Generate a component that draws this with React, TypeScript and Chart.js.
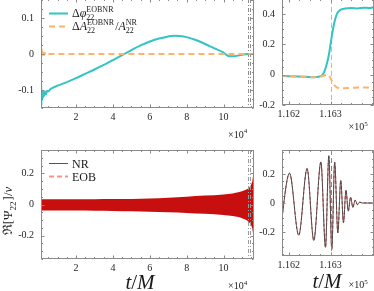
import React, { useEffect, useRef } from 'react';
import { Chart, registerables } from 'chart.js';
Chart.register(...registerables);

const FONT = "'Liberation Serif','Times New Roman','DejaVu Serif',serif";

// ---------------- data ----------------
// top-left: phase difference (full inspiral)
const phaseT = [1000, 1050, 1120, 1200, 1300, 1420, 1550, 1700, 1900, 2150, 2450, 2800, 3200, 3700, 4300, 5000, 6000, 10000, 15000, 20000, 25000, 30000, 35000, 40000, 46000, 50000, 55000, 60000, 65000, 70000, 73000, 76000, 80000, 85000, 90000, 95000, 100000, 103000, 106000, 110000, 113000, 116300];
const phaseV = [-0.066, -0.148, -0.09, -0.142, -0.098, -0.13, -0.104, -0.124, -0.103, -0.12, -0.106, -0.116, -0.104, -0.112, -0.102, -0.104, -0.098, -0.088, -0.078, -0.067, -0.055, -0.043, -0.03, -0.017, 0.0, 0.011, 0.024, 0.035, 0.043, 0.049, 0.051, 0.05, 0.047, 0.039, 0.028, 0.016, 0.004, -0.006, -0.006, -0.002, 0.0, 0.0];
// top-left: relative amplitude difference
const ampT = [1000, 1040, 1100, 1180, 1260, 1360, 1480, 1620, 1800, 2050, 2350, 2700, 3100, 3600, 4200, 5000, 116500];
const ampV = [0.036, -0.012, 0.024, -0.008, 0.014, -0.006, 0.01, -0.005, 0.007, -0.004, 0.005, -0.003, 0.003, -0.002, 0.001, 0, 0];

// top-right: zoom on merger
const zoomPhaseT = [116180, 116200, 116220, 116240, 116260, 116272, 116280, 116286, 116291, 116296, 116300, 116304, 116308, 116312, 116316, 116320, 116326, 116335, 116350, 116365, 116380, 116392, 116405];
const zoomPhaseV = [-0.008, -0.01, -0.012, -0.014, -0.016, -0.014, -0.003, 0.025, 0.07, 0.13, 0.2, 0.27, 0.33, 0.375, 0.405, 0.42, 0.432, 0.437, 0.44, 0.438, 0.443, 0.44, 0.447];
const zoomAmpT = [116180, 116200, 116220, 116240, 116260, 116275, 116285, 116292, 116297, 116302, 116308, 116314, 116320, 116330, 116345, 116360, 116375, 116390, 116405];
const zoomAmpV = [-0.008, -0.01, -0.012, -0.014, -0.016, -0.012, -0.005, 0.002, -0.008, -0.035, -0.065, -0.082, -0.088, -0.09, -0.087, -0.086, -0.084, -0.085, -0.082];

// bottom-left: envelope of the dense inspiral waveform
const envT = [1000, 10000, 20000, 30000, 40000, 50000, 60000, 70000, 80000, 90000, 100000, 105000, 108000, 110000, 112000, 113500, 114500, 115300, 115900, 116200, 116300, 116500];
const envUpper = [0.033, 0.033, 0.034, 0.034, 0.035, 0.036, 0.039, 0.044, 0.05, 0.057, 0.065, 0.071, 0.078, 0.085, 0.095, 0.105, 0.118, 0.14, 0.175, 0.22, 0.3, 0.02];
const envLower = [-0.038, -0.038, -0.039, -0.04, -0.041, -0.043, -0.046, -0.05, -0.054, -0.06, -0.068, -0.074, -0.081, -0.088, -0.098, -0.11, -0.124, -0.145, -0.18, -0.23, -0.32, -0.02];

// bottom-right: merger waveform extrema
const waveT = [116179, 116202, 116224, 116244, 116260, 116277, 116288, 116296, 116303, 116310, 116317.5, 116324.5, 116331, 116337, 116342.5, 116348, 116353.5, 116359, 116364.5, 116370, 116376, 116405];
const nrWaveV = [-0.21, 0.205, -0.222, 0.237, -0.258, 0.283, -0.305, 0.325, -0.32, 0.28, -0.205, 0.155, -0.135, 0.088, -0.056, 0.04, -0.03, 0.02, -0.012, 0.006, 0, 0];
const eobWaveV = [-0.21, 0.205, -0.222, 0.237, -0.258, 0.283, -0.305, 0.325, -0.32, 0.28, -0.205, 0.155, -0.135, 0.088, -0.056, 0.04, -0.03, 0.02, -0.012, 0.006, 0, 0];

// ticks & markers
const longXTicks = [20000, 40000, 60000, 80000, 100000];
const zoomXTicks = [116200, 116300];
const phaseYTicks = [-0.1, 0, 0.1];
const zoomPhaseYTicks = [-0.2, 0, 0.2, 0.4];
const waveYTicks = [-0.2, 0, 0.2];
const windowMarks = [113200, 114300];
const mergerMarks = [116300];

const pts = (xs: number[], ys: number[]) => xs.map((x, i) => ({ x, y: ys[i] }));

// ---------------- helpers ----------------
type Seg = { t?: string; italic?: boolean; sub?: string; sup?: string };

function rich(ctx: CanvasRenderingContext2D, x: number, y: number, segs: Seg[], base: number, script: number, draw = true) {
  let cx = x;
  ctx.textAlign = 'left';
  ctx.textBaseline = 'alphabetic';
  for (const s of segs) {
    if (s.t !== undefined) {
      ctx.font = `${s.italic ? 'italic ' : ''}${base}px ${FONT}`;
      if (draw) ctx.fillText(s.t, cx, y);
      cx += ctx.measureText(s.t).width;
    } else {
      ctx.font = `${script}px ${FONT}`;
      let w = 0;
      if (s.sub) {
        if (draw) ctx.fillText(s.sub, cx, y + base * 0.27);
        w = Math.max(w, ctx.measureText(s.sub).width);
      }
      if (s.sup) {
        if (draw) ctx.fillText(s.sup, cx, y - base * 0.42);
        w = Math.max(w, ctx.measureText(s.sup).width);
      }
      cx += w + 1;
    }
  }
  return cx - x;
}

function legendLine(ctx: CanvasRenderingContext2D, x1: number, x2: number, y: number, color: string, width: number, dash: number[]) {
  ctx.save();
  ctx.strokeStyle = color;
  ctx.lineWidth = width;
  ctx.setLineDash(dash);
  ctx.beginPath();
  ctx.moveTo(x1, y);
  ctx.lineTo(x2, y);
  ctx.stroke();
  ctx.restore();
}

interface VLine { values: number[]; color: string; dash: number[]; width: number }
interface Panel {
  left: number; top: number; w: number; h: number;
  area: { l: number; t: number; r: number; b: number };
  xmin: number; xmax: number; xticks: number[]; xfmt: (v: number) => string;
  ymin: number; ymax: number; yticks: number[];
  datasets: any[];
  vlines: VLine[];
  vlinesOnTop?: boolean;
  extra: (ctx: CanvasRenderingContext2D) => void;
}

const yfmt = (v: number) => (v === 0 ? '0' : String(Math.round(v * 1000) / 1000));

function minorValues(ticks: number[], min: number, max: number) {
  const step = (ticks[1] - ticks[0]) / 4;
  const out: number[] = [];
  let v = ticks[0];
  while (v - step >= min) v -= step;
  for (; v <= max + 1e-9; v += step) out.push(v);
  return out;
}

const noPad = (s: any) => {
  s.paddingTop = 0;
  s.paddingBottom = 0;
  s.paddingLeft = 0;
  s.paddingRight = 0;
};

function makeChart(canvas: HTMLCanvasElement, p: Panel) {
  const drawVLines = (chart: any) => {
    const { ctx, chartArea: a, scales } = chart;
    ctx.save();
    ctx.beginPath();
    ctx.rect(a.left, a.top, a.right - a.left, a.bottom - a.top);
    ctx.clip();
    for (const vl of p.vlines) {
      ctx.strokeStyle = vl.color;
      ctx.lineWidth = vl.width;
      ctx.setLineDash(vl.dash);
      for (const v of vl.values) {
        const x = Math.round(scales.x.getPixelForValue(v)) + 0.5;
        ctx.beginPath();
        ctx.moveTo(x, a.top);
        ctx.lineTo(x, a.bottom);
        ctx.stroke();
      }
    }
    ctx.restore();
  };
  const deco = {
    id: 'deco',
    beforeDatasetsDraw(chart: any) {
      if (!p.vlinesOnTop) drawVLines(chart);
    },
    afterDatasetsDraw(chart: any) {
      if (p.vlinesOnTop) drawVLines(chart);
    },
    afterDraw(chart: any) {
      const { ctx, chartArea: a, scales } = chart;
      ctx.save();
      ctx.strokeStyle = '#8a8a8a';
      ctx.lineWidth = 1;
      ctx.setLineDash([]);
      const L = Math.round(a.left) + 0.5, R = Math.round(a.right) - 0.5;
      const T = Math.round(a.top) + 0.5, B = Math.round(a.bottom) - 0.5;
      ctx.strokeRect(L, T, R - L, B - T);
      ctx.beginPath();
      const xs = scales.x, ys = scales.y;
      const xMin = minorValues(p.xticks, p.xmin, p.xmax);
      const yMin = minorValues(p.yticks, p.ymin, p.ymax);
      for (const v of xMin) {
        const x = Math.round(xs.getPixelForValue(v)) + 0.5;
        const len = p.xticks.some((t) => Math.abs(t - v) < 1e-6) ? 3 : 1.5;
        ctx.moveTo(x, B); ctx.lineTo(x, B - len);
        ctx.moveTo(x, T); ctx.lineTo(x, T + len);
      }
      for (const v of yMin) {
        const y = Math.round(ys.getPixelForValue(v)) + 0.5;
        const len = p.yticks.some((t) => Math.abs(t - v) < 1e-6) ? 3 : 1.5;
        ctx.moveTo(L, y); ctx.lineTo(L + len, y);
        ctx.moveTo(R, y); ctx.lineTo(R - len, y);
      }
      ctx.stroke();
      ctx.restore();

      ctx.save();
      ctx.translate(-p.left, -p.top);
      ctx.fillStyle = '#1a1a1a';
      p.extra(ctx);
      ctx.restore();
    },
  };
  const tickFont = { family: FONT, size: 10 };
  return new Chart(canvas, {
    type: 'line',
    data: { datasets: p.datasets },
    options: {
      responsive: false,
      animation: false,
      devicePixelRatio: 1,
      events: [],
      layout: { padding: { left: 0, top: p.area.t - p.top, right: p.left + p.w - p.area.r, bottom: 0 } },
      plugins: { legend: { display: false }, tooltip: { enabled: false } },
      elements: { point: { radius: 0 } },
      scales: {
        x: {
          type: 'linear', min: p.xmin, max: p.xmax,
          grid: { display: false, drawTicks: false, tickLength: 0 }, border: { display: false },
          afterBuildTicks: (s: any) => { s.ticks = p.xticks.map((v) => ({ value: v })); },
          afterFit: (s: any) => { s.height = p.top + p.h - p.area.b; noPad(s); },
          ticks: { autoSkip: false, maxRotation: 0, padding: 3, color: '#262626', font: tickFont, callback: (v: any) => p.xfmt(Number(v)) },
        },
        y: {
          type: 'linear', min: p.ymin, max: p.ymax,
          grid: { display: false, drawTicks: false, tickLength: 0 }, border: { display: false },
          afterBuildTicks: (s: any) => { s.ticks = p.yticks.map((v) => ({ value: v })); },
          afterFit: (s: any) => { s.width = p.area.l - p.left; noPad(s); },
          ticks: { autoSkip: false, padding: 7, color: '#262626', font: tickFont, callback: (v: any) => yfmt(Number(v)) },
        },
      },
    } as any,
    plugins: [deco as any],
  });
}

const CYAN = '#33c4c4';
const ORANGE = '#ffb366';
const fmt4 = (v: number) => String(Math.round(v / 1000) / 10);
const fmt5 = (v: number) => (v / 1e5).toFixed(3);

function tOverM(ctx: CanvasRenderingContext2D, cx: number, y: number) {
  const segs: Seg[] = [{ t: 't', italic: true }, { t: '/' }, { t: 'M', italic: true }];
  const w = rich(ctx, 0, 0, segs, 21, 14, false);
  rich(ctx, cx - w / 2, y, segs, 21, 14);
}

const panels: Panel[] = [
  {
    left: 0, top: -2, w: 258, h: 147,
    area: { l: 41, t: -1, r: 254, b: 108 },
    xmin: 1000, xmax: 116500, xticks: longXTicks, xfmt: fmt4,
    ymin: -0.15, ymax: 0.153, yticks: phaseYTicks,
    datasets: [
      { data: pts(ampT, ampV), borderColor: ORANGE, borderWidth: 2, borderDash: [6, 4], fill: false, cubicInterpolationMode: 'monotone' },
      { data: pts(phaseT, phaseV), borderColor: CYAN, borderWidth: 2, fill: false, cubicInterpolationMode: 'monotone' },
    ],
    vlines: [{ values: windowMarks, color: '#8c8c8c', dash: [4, 2, 1, 2], width: 1 }],
    extra: (ctx) => {
      legendLine(ctx, 49, 68, 13.5, CYAN, 2, []);
      rich(ctx, 72, 17, [{ t: 'Δ' }, { t: 'φ', italic: true }, { sub: '22', sup: 'EOBNR' }], 12, 8);
      legendLine(ctx, 49, 68, 26.5, ORANGE, 2, [6, 4]);
      rich(ctx, 72, 30, [{ t: 'Δ' }, { t: 'A', italic: true }, { sub: '22', sup: 'EOBNR' }, { t: '/' }, { t: 'A', italic: true }, { sub: '22', sup: 'NR' }], 12, 8);
      rich(ctx, 228, 137.5, [{ t: '×10' }, { sup: '4' }], 10, 7);
    },
  },
  {
    left: 252, top: -2, w: 122, h: 147,
    area: { l: 282, t: -1, r: 374, b: 105 },
    xmin: 116184, xmax: 116404, xticks: zoomXTicks, xfmt: fmt5,
    ymin: -0.2, ymax: 0.5, yticks: zoomPhaseYTicks,
    datasets: [
      { data: pts(zoomAmpT, zoomAmpV), borderColor: ORANGE, borderWidth: 2, borderDash: [6, 4], fill: false, cubicInterpolationMode: 'monotone' },
      { data: pts(zoomPhaseT, zoomPhaseV), borderColor: CYAN, borderWidth: 2, fill: false, cubicInterpolationMode: 'monotone' },
    ],
    vlines: [{ values: mergerMarks, color: '#9cc2e6', dash: [5, 3], width: 1 }],
    extra: (ctx) => {
      rich(ctx, 348.5, 130, [{ t: '×10' }, { sup: '5' }], 10, 7);
    },
  },
  {
    left: 0, top: 145, w: 258, h: 146,
    area: { l: 41, t: 150, r: 254, b: 259 },
    xmin: 1000, xmax: 116500, xticks: longXTicks, xfmt: fmt4,
    ymin: -0.35, ymax: 0.35, yticks: waveYTicks,
    datasets: [
      { data: pts(envT, envUpper), borderWidth: 0, borderColor: 'rgba(0,0,0,0)', backgroundColor: '#c80f0f', fill: '+1', cubicInterpolationMode: 'monotone' },
      { data: pts(envT, envLower), borderWidth: 0, borderColor: 'rgba(0,0,0,0)', fill: false, cubicInterpolationMode: 'monotone' },
    ],
    vlines: [{ values: windowMarks, color: '#9a9a9a', dash: [4, 2, 1, 2], width: 1 }],
    vlinesOnTop: true,
    extra: (ctx) => {
      legendLine(ctx, 49, 68, 163.5, '#555555', 1, []);
      rich(ctx, 72, 167.5, [{ t: 'NR' }], 12, 8);
      legendLine(ctx, 49, 68, 176.5, '#ff8f8f', 2, [5, 3]);
      rich(ctx, 72, 180.5, [{ t: 'EOB' }], 12, 8);
      rich(ctx, 228, 289, [{ t: '×10' }, { sup: '4' }], 10, 7);
      tOverM(ctx, 140, 289);
      const segs: Seg[] = [{ t: 'ℜ' }, { t: '[' }, { t: 'Ψ' }, { sub: '22' }, { t: ']' }, { t: '/' }, { t: 'ν', italic: true }];
      ctx.save();
      ctx.translate(12, 211);
      ctx.rotate(-Math.PI / 2);
      const w = rich(ctx, 0, 0, segs, 13, 9, false);
      rich(ctx, -w / 2, 0, segs, 13, 9);
      ctx.restore();
    },
  },
  {
    left: 252, top: 145, w: 122, h: 146,
    area: { l: 282, t: 150, r: 374, b: 256 },
    xmin: 116184, xmax: 116404, xticks: zoomXTicks, xfmt: fmt5,
    ymin: -0.365, ymax: 0.365, yticks: waveYTicks,
    datasets: [
      { data: pts(waveT, nrWaveV), borderColor: '#4d4d4d', borderWidth: 1, fill: false, cubicInterpolationMode: 'monotone' },
      { data: pts(waveT, eobWaveV), borderColor: 'rgba(255,20,20,0.9)', borderWidth: 1, borderDash: [3, 2], fill: false, cubicInterpolationMode: 'monotone' },
    ],
    vlines: [{ values: mergerMarks, color: '#3d9bdc', dash: [5, 3], width: 1 }],
    vlinesOnTop: true,
    extra: (ctx) => {
      rich(ctx, 348.5, 288, [{ t: '×10' }, { sup: '5' }], 10, 7);
      tOverM(ctx, 327, 288);
    },
  },
];

export default function App() {
  const refs = useRef<(HTMLCanvasElement | null)[]>([]);
  useEffect(() => {
    document.body.style.margin = '0';
    const charts = panels.map((p, i) => makeChart(refs.current[i] as HTMLCanvasElement, p));
    return () => charts.forEach((c) => c.destroy());
  }, []);
  return (
    <div style={{ position: 'absolute', left: 0, top: 0, width: 374, height: 291, overflow: 'hidden', background: '#fff' }}>
      {panels.map((p, i) => (
        <canvas
          key={i}
          ref={(el) => { refs.current[i] = el; }}
          width={p.w}
          height={p.h}
          style={{ position: 'absolute', left: p.left, top: p.top, width: p.w, height: p.h }}
        />
      ))}
    </div>
  );
}
